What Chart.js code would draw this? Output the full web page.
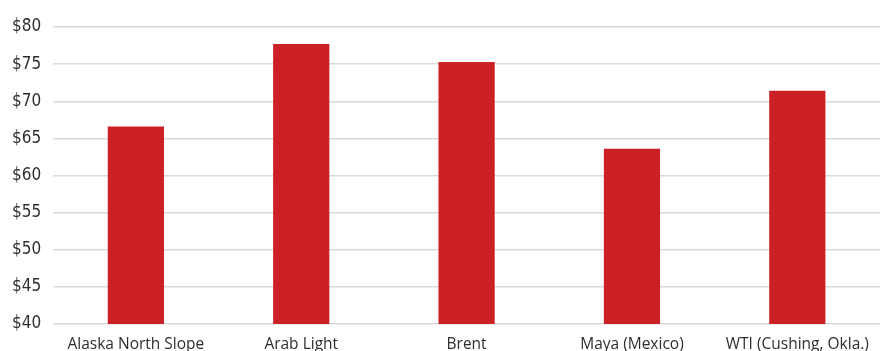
<!DOCTYPE html>
<html>
<head>
<meta charset="utf-8">
<script src="https://cdn.jsdelivr.net/npm/chart.js@4"></script>
<style>
  html, body { margin: 0; padding: 0; background: #fff; }
  #wrap { width: 884px; height: 351px; position: relative; }
</style>
</head>
<body>
<div id="wrap"><canvas id="priceChart"></canvas></div>
<script>
const categories = ["Alaska North Slope", "Arab Light", "Brent", "Maya (Mexico)", "WTI (Cushing, Okla.)"];
const prices = [66.6, 77.7, 75.3, 63.6, 71.4];
const yTicks = [40, 45, 50, 55, 60, 65, 70, 75, 80];

const BAR_RED = "#cc2027";
const TEXT = "#2e2e2e";
const CONDENSED = "'DejaVu Sans Condensed', Roboto, sans-serif";

new Chart(document.getElementById("priceChart"), {
  type: "bar",
  data: {
    labels: categories,
    datasets: [
      {
        label: "Price",
        data: prices,
        backgroundColor: BAR_RED,
        categoryPercentage: 1,
        barPercentage: 0.34
      }
    ]
  },
  options: {
    responsive: true,
    maintainAspectRatio: false,
    animation: false,
    layout: { padding: { top: 27, right: 4, left: 0, bottom: 0 } },
    plugins: {
      legend: { display: false },
      tooltip: { enabled: false }
    },
    scales: {
      x: {
        grid: { display: false, drawTicks: false },
        border: { display: false },
        afterFit: (axis) => { axis.height = 27; },
        ticks: {
          color: TEXT,
          font: { family: "Open Sans", size: 15.5 },
          padding: 11,
          maxRotation: 0,
          autoSkip: false
        }
      },
      y: {
        min: 40,
        max: 80,
        afterBuildTicks: (axis) => {
          axis.ticks = yTicks.map((v) => ({ value: v }));
        },
        grid: { color: "#d9d9d9", lineWidth: 1.5, drawTicks: false },
        border: { display: false },
        ticks: {
          color: TEXT,
          font: { family: CONDENSED, size: 17 },
          padding: 12,
          callback: (v) => `$${v}`
        }
      }
    }
  }
});
</script>
</body>
</html>
